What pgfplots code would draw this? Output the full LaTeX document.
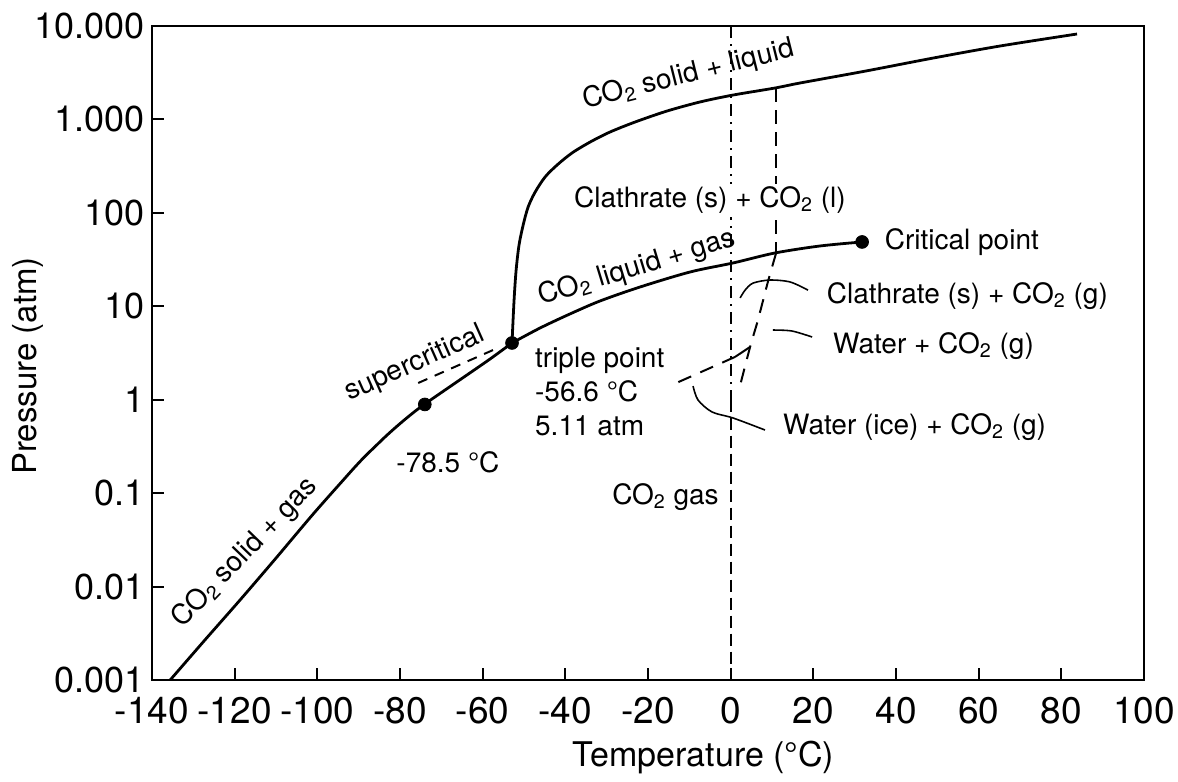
\documentclass[border=0pt]{standalone}
\usepackage{fontspec}
\setmainfont{TeX Gyre Heros}
\usepackage{pgfplots}
\pgfplotsset{compat=1.18}
\newcommand{\ann}{\fontsize{14bp}{17bp}\selectfont}
\newcommand{\cotwo}{CO\textsubscript{2}}
\begin{document}
\begin{tikzpicture}
\path[use as bounding box] (-76bp,-51bp) rectangle (513bp,340bp);
\begin{axis}[
  at={(0,0)}, anchor=south west,
  scale only axis, width=496bp, height=327bp,
  ymode=log, xmin=-140, xmax=100, ymin=0.001, ymax=10000,
  axis line style={line width=1.2pt},
  tick align=inside, tick pos=left,
  major tick length=6bp,
  tick style={line width=1pt, black},
  yminorticks=false,
  xtick={-140,-120,...,100},
  xticklabels={-140,-120,-100,-80,-60,-40,-20,0,20,40,60,80,100},
  ytick={0.001,0.01,0.1,1,10,100,1000,10000},
  yticklabels={0.001,0.01,0.1,1,10,100,1.000,10.000},
  xticklabel shift=5bp,
  xticklabel style={font=\fontsize{18.5bp}{20bp}\selectfont},
  yticklabel style={font=\fontsize{18bp}{20bp}\selectfont},
  xlabel={Temperature (°C)}, ylabel={Pressure (atm)},
  xlabel style={font=\fontsize{17bp}{20bp}\selectfont, at={(axis description cs:0.556,0)}, anchor=center, yshift=-39bp},
  ylabel style={font=\fontsize{16.5bp}{20bp}\selectfont, at={(axis description cs:-0.125,0.48)}, anchor=center},
  clip mode=individual,
]
% sublimation curve
\addplot[line width=1.4pt, smooth] coordinates {
 (-135.6,0.001) (-127.2,0.00268) (-118.7,0.00718) (-110.2,0.0197) (-101.0,0.0598) (-93.3,0.145) (-90.9,0.1905) (-88.5,0.247) (-86.0,0.316) (-83.6,0.400) (-81.2,0.499) (-78.8,0.615) (-76.4,0.750) (-73.9,0.906) (-69.1,1.27) (-63.8,1.84) (-58.2,2.73) (-52.9,4.05)};
% melting curve
\addplot[line width=1.4pt, smooth] coordinates {
 (-52.9,4.05) (-52.4,11.7) (-51.9,24.5) (-51.2,45.3) (-50.2,74.1) (-49.0,115.6) (-47.3,167) (-44.9,242) (-42.0,325) (-38.4,437) (-34.0,573) (-29.2,733) (-23.1,939) (-15.4,1230) (-7.4,1538) (0.6,1825) (10.7,2168) (16.8,2455) (32.7,3298) (49.0,4540) (65.2,6110) (83.8,8210)};
% vaporisation curve
\addplot[line width=1.4pt, smooth] coordinates {
 (-52.9,4.05) (-46.1,5.86) (-38.9,8.27) (-31.6,11.4) (-21.9,16.1) (-9.8,23.3) (0.6,29.1) (10.7,37.2) (21.6,44.2) (31.8,48.8)};
% supercritical dashed
\addplot[line width=1pt, dash pattern=on 5bp off 4bp] coordinates {(-75.6,1.51) (-57.5,3.40)};
% 0 C line
\addplot[line width=0.9pt, dash pattern=on 6bp off 3bp on 1bp off 3bp] coordinates {(0,10000) (0,1)};
\addplot[line width=0.9pt, dash pattern=on 6bp off 3bp] coordinates {(0,1) (0,0.001)};
% clathrate decomposition lines
\addplot[line width=1pt, dash pattern=on 7bp off 4bp] coordinates {(11,2168) (11,37.2)};
\addplot[line width=1pt, dash pattern=on 7bp off 5bp, smooth] coordinates {(11,37.2) (9.0,18.2) (6.6,7.13) (4.7,3.67) (2.0,1.27)};
\addplot[line width=1pt] coordinates {(4.7,3.67) (1.05,2.87)};
\addplot[line width=1pt, dash pattern=on 7bp off 5bp] coordinates {(1.05,2.87) (-14.2,1.44)};
% leader lines
\addplot[line width=0.8pt, smooth] coordinates {(18.7,14.9) (14.4,18.2) (9.5,19.1) (5.4,17.7) (3.5,14.9) (2.3,12.3)};
\addplot[line width=0.8pt, smooth] coordinates {(19.7,4.69) (14.8,5.44) (10.2,5.57)};
\addplot[line width=0.8pt, smooth] coordinates {(-9.1,1.40) (-7.9,0.993) (-4.5,0.739) (0.6,0.637) (8.3,0.474)};
% dots
\addplot[only marks, mark=*, mark size=3.2bp] coordinates {(-74.0,0.89) (-52.9,4.05) (31.8,48.8)};
% labels
\node[font=\ann, rotate=14] at (axis cs:-10.2,2990) {\cotwo{} solid + liquid};
\node[font=\ann, fill=white, inner sep=1.5bp] at (axis cs:-5.0,137) {Clathrate (s) + \cotwo{} (l)};
\node[font=\ann, rotate=17] at (axis cs:-22.7,25.7) {\cotwo{} liquid + gas};
\node[font=\ann, anchor=west] at (axis cs:35.6,48.8) {Critical point};
\node[font=\ann, anchor=west] at (axis cs:21.6,12.9) {Clathrate (s) + \cotwo{} (g)};
\node[font=\ann, anchor=west] at (axis cs:23.1,3.76) {Water + \cotwo{} (g)};
\node[font=\ann, anchor=west] at (axis cs:11.0,0.51) {Water (ice) + \cotwo{} (g)};
\node[font=\ann, anchor=west, align=left] at (axis cs:-49.0,1.21) {triple point\\-56.6 °C\\5.11 atm};
\node[font=\ann, rotate=24] at (axis cs:-76.4,2.41) {supercritical};
\node[font=\ann] at (axis cs:-68.4,0.215) {-78.5 °C};
\node[font=\ann, rotate=46] at (axis cs:-117.5,0.0229) {\cotwo{} solid + gas};
\node[font=\ann, anchor=east] at (axis cs:-1.2,0.091) {\cotwo{} gas};
\end{axis}
\end{tikzpicture}
\end{document}
